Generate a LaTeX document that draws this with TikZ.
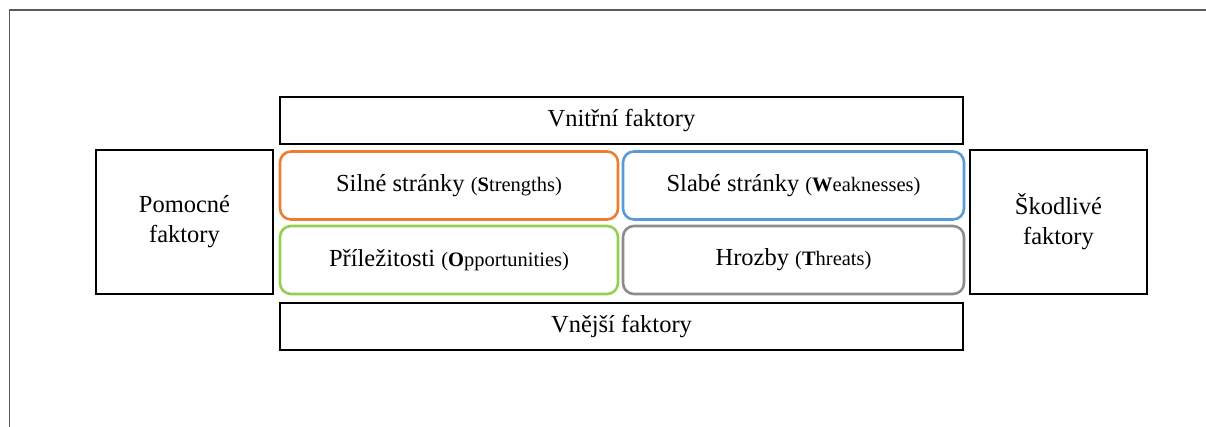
\documentclass[tikz,border=0pt]{standalone}
\usepackage{fontspec}
\setmainfont{Liberation Serif}
\usepackage{xcolor}
\definecolor{swotorange}{HTML}{ED7D31}
\definecolor{swotblue}{HTML}{5B9BD5}
\definecolor{swotgreen}{HTML}{92D050}
\definecolor{swotgray}{HTML}{8C8C8C}
\definecolor{ramgray}{HTML}{5A5A5A}
\newcommand{\velky}{\fontsize{24.5}{30}\selectfont}
\newcommand{\maly}{\fontsize{20.5}{24}\selectfont}
\tikzset{
  faktor/.style={draw=black, line width=2pt, inner sep=0pt, align=center, font=\velky},
  swot/.style={rounded corners=11pt, line width=2.6pt, inner sep=0pt,
               minimum height=68pt, font=\velky},
}

\begin{document}
\begin{tikzpicture}[x=1pt, y=-1pt]
  \useasboundingbox (0,0) rectangle (1206,427);
  \draw[ramgray, line width=1.5pt] (9.5,427) -- (9.5,10) -- (1206,10);

  \node[faktor, minimum width=683pt, minimum height=47pt] (vnitrni) at (621.5,120.5) {Vnitřní faktory};
  \node[faktor, minimum width=683pt, minimum height=47pt] (vnejsi) at (621.5,326.5) {Vnější faktory};
  \node[faktor, minimum width=177pt, minimum height=144pt] (pomocne) at (184.5,222) {Pomocné\\faktory};
  \node[faktor, minimum width=177pt, minimum height=144pt] (skodlive) at (1058.5,222) {Škodlivé\\faktory};

  \node[swot, draw=swotorange, minimum width=338pt] (silne) at (449,185.5)
    {Silné stránky {\maly(\textbf{S}trengths)}};
  \node[swot, draw=swotblue, minimum width=341pt] (slabe) at (793.5,185.5)
    {Slabé stránky {\maly(\textbf{W}eaknesses)}};
  \node[swot, draw=swotgreen, minimum width=338pt] (prilezitosti) at (449,260)
    {Příležitosti {\maly(\textbf{O}pportunities)}};
  \node[swot, draw=swotgray, minimum width=341pt] (hrozby) at (793.5,260)
    {Hrozby {\maly(\textbf{T}hreats)}};
\end{tikzpicture}
\end{document}
